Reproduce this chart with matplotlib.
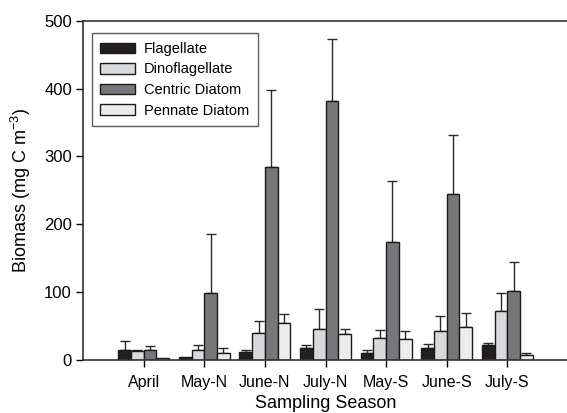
import matplotlib as mpl
mpl.use("agg")
import matplotlib.pyplot as plt
import numpy as np

plt.rcParams['font.family'] = ['Liberation Sans', 'DejaVu Sans']
plt.rcParams['mathtext.fontset'] = 'custom'
plt.rcParams['mathtext.rm'] = 'Liberation Sans'
plt.rcParams['mathtext.default'] = 'regular'

# sampling seasons
seasons = ["April", "May-N", "June-N", "July-N", "May-S", "June-S", "July-S"]

# mean biomass (mg C m-3)
flagellate = [14, 3, 11.5, 17.5, 10, 17, 21.5]
dinoflagellate = [12, 14, 39, 45, 32, 41.5, 71.5]
centric = [13.5, 98, 284, 382, 173, 244.5, 101.5]
pennate = [2, 10, 53.5, 38, 30.5, 47.5, 6]

# top of the error bars
flagellate_top = [27, 3, 14, 21.5, 14, 22.5, 24]
dinoflagellate_top = [14, 22, 57, 74, 43.5, 64, 97.5]
centric_top = [20, 185, 398, 474, 263, 331.5, 144]
pennate_top = [2, 17.5, 66.5, 45.5, 41.5, 68, 9.5]

series = [
    ("Flagellate", flagellate, flagellate_top, "#231f20"),
    ("Dinoflagellate", dinoflagellate, dinoflagellate_top, "#d8d9da"),
    ("Centric Diatom", centric, centric_top, "#77777b"),
    ("Pennate Diatom", pennate, pennate_top, "#ececec"),
]

fig = plt.figure(figsize=(5.67, 4.13), dpi=100)
ax = fig.add_axes([83/567, 53.5/413, 485/567, 338.5/413])

x = np.arange(len(seasons))
w = 0.21
for i, (name, vals, tops, col) in enumerate(series):
    vals = np.array(vals)
    err = np.array(tops) - vals
    pos = x + (i - 1.5) * w
    ax.bar(pos, vals, w, color=col, edgecolor="#1a1a1a", linewidth=1.0, label=name, zorder=2)
    mask = err > 0.5
    ax.errorbar(pos[mask], vals[mask], yerr=[np.zeros(mask.sum()), err[mask]],
                fmt="none", ecolor="#2a2a2a", elinewidth=1.0, capsize=3.9, capthick=1.0, zorder=1)

ax.set_xlim(-1, 7)
ax.set_ylim(0, 500)
ax.set_xticks(x)
ax.set_xticklabels(seasons, fontsize=11.5)
ax.set_yticks([0, 100, 200, 300, 400, 500])
ax.tick_params(axis="y", labelsize=12, direction="out", length=5, width=1, pad=3)
ax.tick_params(axis="x", direction="out", length=5, width=1, pad=6)
ax.spines["right"].set_visible(False)
for s in ["left", "bottom", "top"]:
    ax.spines[s].set_color("#333333")
    ax.spines[s].set_linewidth(1.2)

ax.set_xlabel("Sampling Season", fontsize=13, labelpad=4)
ax.set_ylabel("Biomass (mg C m$^{-3}$)", fontsize=13, labelpad=8)

leg = ax.legend(loc="upper left", bbox_to_anchor=(0.018, 0.964), fontsize=10.5,
                frameon=True, fancybox=False, handlelength=2.4, handleheight=0.75,
                labelspacing=0.45, borderpad=0.6, handletextpad=0.6, borderaxespad=0)
leg.get_frame().set_edgecolor("#333333")
leg.get_frame().set_linewidth(1.0)

plt.savefig("out.png", dpi=100)
